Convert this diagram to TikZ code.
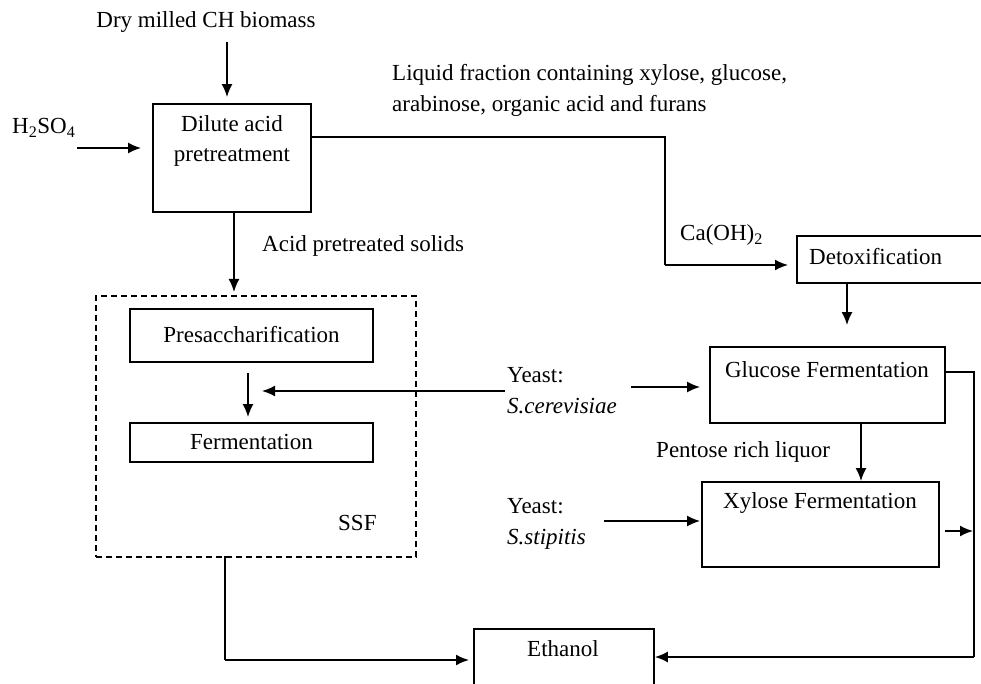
\documentclass[tikz,border=0pt]{standalone}
\usepackage{fontspec}
\setmainfont{Liberation Serif}
\usetikzlibrary{arrows.meta}
\tikzset{
  box/.style={draw, line width=1.8pt, inner sep=0pt},
  txt/.style={inner sep=0pt, font=\fontsize{23}{30.5}\selectfont},
  arr/.style={line width=1.8pt, -{Latex[length=13pt,width=11pt]}},
  ln/.style={line width=1.8pt},
  ssfbox/.style={draw, line width=1.8pt, dash pattern=on 6pt off 4pt, inner sep=0pt}
}
\begin{document}
\begin{tikzpicture}[x=1pt,y=-1pt]
\clip (0,0) rectangle (981,684);
\fill[white] (0,0) rectangle (981,684);
% boxes
\node[box, minimum width=158, minimum height=108] (dil) at (232,158) {};
\node[txt, align=center] (diltxt) at (232,141) {Dilute acid\\pretreatment};
\node[box, minimum width=200, minimum height=47, anchor=north west] (det) at (796,235) {};
\node[txt, anchor=west] (dettxt) at (809,257) {Detoxification};
\node[box, minimum width=235, minimum height=76] (glu) at (827.5,385) {};
\node[txt] (glutxt) at (827,370) {Glucose Fermentation};
\node[box, minimum width=237, minimum height=85] (xyl) at (820.5,524.5) {};
\node[txt] (xyltxt) at (820,503) {Xylose Fermentation};
\node[ssfbox, minimum width=320, minimum height=261, anchor=north west] (ssf) at (95,295) {};
\node[box, minimum width=243, minimum height=53] (pre) at (251.5,335.5) {};
\node[txt] (pretxt) at (251.5,335) {Presaccharification};
\node[box, minimum width=243, minimum height=39] (fer) at (251.5,442.5) {};
\node[txt] (fertxt) at (251.5,442) {Fermentation};
\node[txt, anchor=west] (ssftxt) at (338,523) {SSF};
\node[box, minimum width=180, minimum height=80, anchor=north west] (eth) at (473,628) {};
\node[txt] (ethtxt) at (563,649) {Ethanol};
% labels
\node[txt] (dry) at (206,22) {Dry milled CH biomass};
\node[txt, anchor=west] (h2) at (12,128) {H\textsubscript{2}SO\textsubscript{4}};
\node[txt, anchor=west, align=left] (liq) at (392,90.5) {Liquid fraction containing xylose, glucose,\\arabinose, organic acid and furans};
\node[txt, anchor=west] (aps) at (262,246) {Acid pretreated solids};
\node[txt, anchor=west] (caoh) at (680,235) {Ca(OH)\textsubscript{2}};
\node[txt, anchor=west, align=left] (cer) at (507,390.5) {Yeast:\\\textit{S.cerevisiae}};
\node[txt, anchor=west] (pent) at (656,452) {Pentose rich liquor};
\node[txt, anchor=west, align=left] (sti) at (507,524) {Yeast:\\\textit{S.stipitis}};
% coordinates
\coordinate (c1) at (227,42);
\coordinate (c2) at (77,148);
\coordinate (c3) at (665,137);
\coordinate (c4) at (665,265);
\coordinate (c5) at (234,212);
\coordinate (c6) at (248,362);
\coordinate (c7) at (505,391);
\coordinate (c8) at (262,391);
\coordinate (c9) at (631,387);
\coordinate (c10) at (847,282);
\coordinate (c11) at (861,423);
\coordinate (c12) at (604,521);
\coordinate (c13) at (974,372);
\coordinate (c14) at (974,657);
\coordinate (c15) at (945,531);
\coordinate (c16) at (973,531);
\coordinate (c17) at (225,556);
\coordinate (c18) at (225,660);
% connectors
\draw[arr, shorten >=6pt] (c1) -- (c1 |- dil.north);
\draw[arr, shorten >=11pt] (c2) -- (c2 -| dil.west);
\draw[ln] (c3 -| dil.east) -- (c3) -- (c4);
\draw[arr, shorten >=8pt] (c4) -- (c4 -| det.west);
\draw[arr, shorten >=3pt] (c5) -- (c5 |- ssf.north);
\draw[arr, shorten <=11pt, shorten >=5pt] (c6) -- (c6 |- fer.north);
\draw[arr] (c7) -- (c8);
\draw[arr, shorten >=9pt] (c9) -- (c9 -| glu.west);
\draw[arr, shorten >=21pt] (c10) -- (c10 |- glu.north);
\draw[arr] (c11) -- (c11 |- xyl.north);
\draw[arr, shorten >=1pt] (c12) -- (c12 -| xyl.west);
\draw[ln] (c13 -| glu.east) -- (c13) -- (c14);
\draw[arr] (c14) -- (c14 -| eth.east);
\draw[arr] (c15) -- (c16);
\draw[ln] (c17) -- (c18);
\draw[arr, shorten >=4pt] (c18) -- (c18 -| eth.west);
\end{tikzpicture}
\end{document}
